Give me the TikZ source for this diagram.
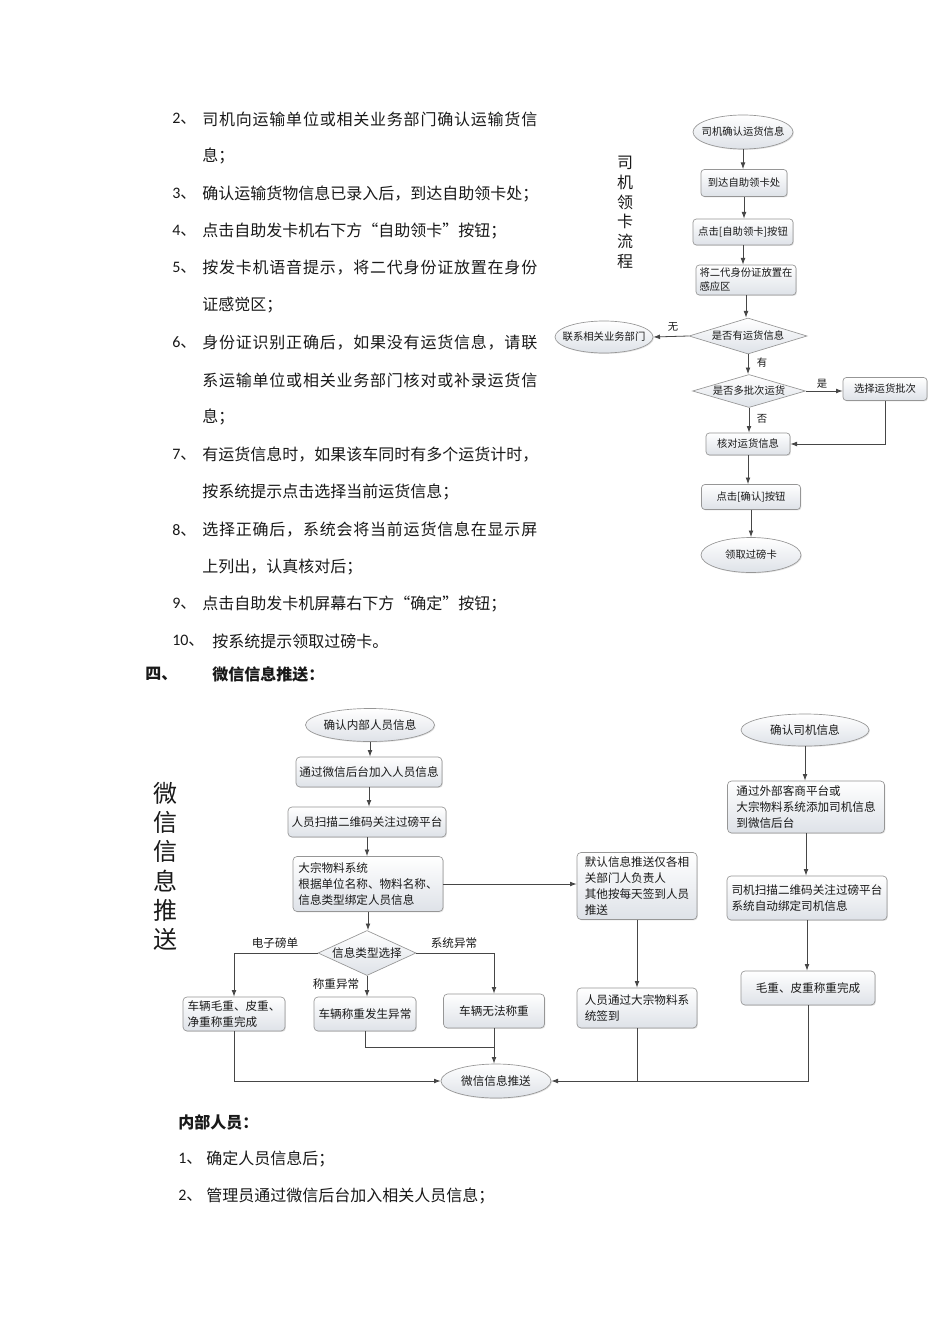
\documentclass[tikz,border=0pt]{standalone}
\usepackage{fontspec}
\setmainfont{Noto Sans CJK SC}
\newfontfamily\lat{Carlito}
\usetikzlibrary{shapes.geometric,arrows.meta,shadows}
\definecolor{linec}{RGB}{70,70,70}
\definecolor{bordc}{RGB}{150,150,150}
\definecolor{botc}{RGB}{222,226,232}
\definecolor{textc}{RGB}{25,25,25}
\def\px{*0.75pt}
\makeatletter
\newcommand\spreadbox[2]{\makebox[#1][s]{\spr@a#2\relax}}
\def\spr@a#1{#1\futurelet\spr@next\spr@b}
\def\spr@b{\ifx\spr@next\relax\expandafter\@gobble\else\hfil\expandafter\spr@a\fi}
\makeatother
\newcommand\zw[1]{\makebox[0pt]{#1}}
\tikzset{
  lc/.style={draw=linec, line width=0.6pt},
  arr/.style={lc, -{Latex[length=5pt,width=3.6pt]}},
  fl/.style={draw=bordc, line width=0.5pt, top color=white, bottom color=botc, text=textc, inner sep=1pt,
    drop shadow={shadow xshift=0.7pt, shadow yshift=-0.7pt, opacity=0.22}},
  fA/.style={font=\fontsize{7.75}{10.5}\selectfont},
  fB/.style={font=\fontsize{8.7}{12}\selectfont},
  boxA/.style={fl, fA, rectangle, rounded corners=2.5pt, align=left},
  boxB/.style={fl, fB, rectangle, rounded corners=3pt, align=left},
  ellA/.style={fl, fA, ellipse, inner sep=0pt},
  ellB/.style={fl, fB, ellipse, inner sep=0pt},
  diaA/.style={draw=bordc, line width=0.5pt, top color=white, bottom color=botc, text=textc, fA, diamond, inner sep=0pt},
  diaB/.style={draw=bordc, line width=0.5pt, top color=white, bottom color=botc, text=textc, fB, diamond, inner sep=0pt},
  lblA/.style={text=textc, fA, inner sep=0pt},
  lblB/.style={text=textc, fB, inner sep=0pt},
  txt/.style={font=\fontsize{12}{14}\selectfont, text=textc, inner sep=0pt, anchor=west},
}
\begin{document}
\begin{tikzpicture}[x=0.75pt,y=-0.75pt]
\useasboundingbox (0,0) rectangle (950,1344);
\fill[white] (0,0) rectangle (950,1344);

% ---------- body text ----------
\node[txt] (n2) at (172,119) {{\lat 2}、};
\node[txt] (t2a) at (202,119) {\spreadbox{251.25pt}{司机向运输单位或相关业务部门确认运输货信}};
\node[txt] (t2b) at (202,156) {息；};
\node[txt] (n3) at (172,194) {{\lat 3}、};
\node[txt] (t3) at (202,194) {\spreadbox{251.25pt}{确认运输货物信息已录入后，到达自助领卡处；}};
\node[txt] (n4) at (172,231) {{\lat 4}、};
\node[txt] (t4) at (202,231) {点击自助发卡机右下方“自助领卡”按钮；};
\node[txt] (n5) at (172,268) {{\lat 5}、};
\node[txt] (t5a) at (202,268) {\spreadbox{251.25pt}{按发卡机语音提示，将二代身份证放置在身份}};
\node[txt] (t5b) at (202,305) {证感觉区；};
\node[txt] (n6) at (172,343) {{\lat 6}、};
\node[txt] (t6a) at (202,343) {\spreadbox{251.25pt}{身份证识别正确后，如果没有运货信息，请联}};
\node[txt] (t6b) at (202,380) {\spreadbox{251.25pt}{系运输单位或相关业务部门核对或补录运货信}};
\node[txt] (t6c) at (202,417) {息；};
\node[txt] (n7) at (172,455) {{\lat 7}、};
\node[txt] (t7a) at (202,455) {\spreadbox{251.25pt}{有运货信息时，如果该车同时有多个运货计时，}};
\node[txt] (t7b) at (202,492) {按系统提示点击选择当前运货信息；};
\node[txt] (n8) at (172,530) {{\lat 8}、};
\node[txt] (t8a) at (202,530) {\spreadbox{251.25pt}{选择正确后，系统会将当前运货信息在显示屏}};
\node[txt] (t8b) at (202,567) {上列出，认真核对后；};
\node[txt] (n9) at (172,604) {{\lat 9}、};
\node[txt] (t9) at (202,604) {点击自助发卡机屏幕右下方“确定”按钮；};
\node[txt] (n10) at (172,641) {{\lat 10}、};
\node[txt] (t10) at (212,641) {按系统提示领取过磅卡。};
\node[txt, font=\fontsize{12}{14}\selectfont\bfseries] (h4) at (145,674) {四、};
\node[txt, font=\fontsize{12}{14}\selectfont\bfseries] (h4t) at (212,674) {微信信息推送：};
\node[txt, font=\fontsize{12}{14}\selectfont\bfseries] (hn) at (178,1122) {内部人员：};
\node[txt] (m1) at (178,1159) {{\lat 1}、};
\node[txt] (m1t) at (206,1159) {确定人员信息后；};
\node[txt] (m2) at (178,1196) {{\lat 2}、};
\node[txt] (m2t) at (206,1196) {管理员通过微信后台加入相关人员信息；};

% ---------- top flowchart ----------
\node[text=textc, font=\fontsize{12}{14.85}\selectfont, align=center, inner sep=0pt] (tt1) at (625,212.5) {司\\机\\领\\卡\\流\\程};

\node[ellA, minimum width=100\px, minimum height=34\px] (e1) at (743,132) {\zw{司机确认运货信息}};
\node[boxA, minimum width=86\px, minimum height=27\px] (r1) at (744,183) {到达自助领卡处};
\node[boxA, minimum width=100\px, minimum height=26\px] (r2) at (743,232) {点击[自助领卡]按钮};
\node[boxA, minimum width=100\px, minimum height=30\px] (r3) at (746,280) {将二代身份证放置在\\感应区};
\node[diaA, aspect=3.28, minimum width=118\px, minimum height=36\px] (d1) at (748,336) {是否有运货信息};
\node[ellA, minimum width=98\px, minimum height=32\px] (e2) at (604,337) {\zw{联系相关业务部门}};
\node[diaA, aspect=3.42, minimum width=113\px, minimum height=33\px] (d2) at (749,391) {是否多批次运货};
\node[boxA, minimum width=84\px, minimum height=23\px] (r4) at (885,389) {选择运货批次};
\node[boxA, minimum width=84\px, minimum height=22\px] (r5) at (748,444) {核对运货信息};
\node[boxA, minimum width=99\px, minimum height=25\px] (r6) at (751,497) {点击[确认]按钮};
\node[ellA, minimum width=100\px, minimum height=35\px] (e3) at (751,555) {\zw{领取过磅卡}};

\node[lblA] (lw) at (673,327) {无};
\node[lblA] (ly) at (762,363) {有};
\node[lblA] (ls) at (822,384) {是};
\node[lblA] (lf) at (762,419) {否};

\draw[arr] (e1.south) -- (e1.south |- r1.north);
\draw[arr] (r1.south) -- (r1.south |- r2.north);
\draw[arr] (r2.south) -- (r2.south |- r3.north);
\draw[arr] (r3.south) -- (r3.south |- d1.north);
\draw[arr] (d1.west) -- (e2.east);
\draw[arr] (d1.south) -- (d1.south |- d2.north);
\draw[arr] (d2.east) -- (d2.east -| r4.west);
\draw[arr] (d2.south) -- (d2.south |- r5.north);
\draw[arr] (r4.south) |- (r5.east);
\draw[arr] (r5.south) -- (r5.south |- r6.north);
\draw[arr] (r6.south) -- (r6.south |- e3.north);

% ---------- bottom flowchart ----------
\node[text=textc, font=\fontsize{18}{22}\selectfont, align=center, inner sep=0pt] (tt2) at (165,866.5) {微\\信\\信\\息\\推\\送};

\node[ellB, minimum width=129\px, minimum height=33\px] (be1) at (370,725) {\zw{确认内部人员信息}};
\node[boxB, minimum width=146\px, minimum height=30\px] (br1) at (369,772) {通过微信后台加入人员信息};
\node[boxB, minimum width=158\px, minimum height=30\px] (br2) at (367,822) {人员扫描二维码关注过磅平台};
\node[boxB, minimum width=150\px, minimum height=55\px] (br3) at (368,884) {大宗物料系统\\根据单位名称、物料名称、\\信息类型绑定人员信息};
\node[boxB, minimum width=120\px, minimum height=67\px] (br4) at (637,886) {默认信息推送仅各相\\关部门人负责人\\其他按每天签到人员\\推送};
\node[diaB, aspect=2.18, minimum width=98\px, minimum height=45\px] (bd) at (367,953) {信息类型选择};
\node[boxB, minimum width=102\px, minimum height=34\px] (bl) at (234,1014) {车辆毛重、皮重、\\净重称重完成};
\node[boxB, minimum width=102\px, minimum height=34\px] (bm) at (365,1014) {车辆称重发生异常};
\node[boxB, minimum width=101\px, minimum height=34\px] (brr) at (494,1011) {车辆无法称重};
\node[ellB, minimum width=110\px, minimum height=34\px] (bend) at (496,1081) {\zw{微信信息推送}};
\node[boxB, minimum width=120\px, minimum height=40\px] (br5) at (637,1008) {人员通过大宗物料系\\统签到};
\node[ellB, minimum width=128\px, minimum height=32\px] (ce) at (805,730) {\zw{确认司机信息}};
\node[boxB, minimum width=157\px, minimum height=52\px] (bc1) at (806,807) {通过外部客商平台或\\大宗物料系统添加司机信息\\到微信后台};
\node[boxB, minimum width=160\px, minimum height=44\px] (bc2) at (807,898) {司机扫描二维码关注过磅平台\\系统自动绑定司机信息};
\node[boxB, minimum width=134\px, minimum height=34\px] (bc3) at (808,988) {毛重、皮重称重完成};

\node[lblB] (la) at (275,943) {电子磅单};
\node[lblB] (lb) at (454,943) {系统异常};
\node[lblB] (lc) at (336,984) {称重异常};

\coordinate (j1) at (494,1047);

\draw[arr] (be1.south) -- (be1.south |- br1.north);
\draw[arr] (br1.south) -- (br1.south |- br2.north);
\draw[arr] (br2.south) -- (br2.south |- br3.north);
\draw[arr] (br3.south) -- (br3.south |- bd.north);
\draw[arr] (br3.east) -- (br3.east -| br4.west);
\draw[arr] (bd.west) -| (bl.north);
\draw[arr] (bd.east) -| (brr.north);
\draw[arr] (bd.south) -- (bd.south |- bm.north);
\draw[lc] (bm.south) |- (j1);
\draw[arr] (brr.south) -- (brr.south |- bend.north);
\draw[arr] (bl.south) |- (bend.west);
\draw[arr] (br4.south) -- (br4.south |- br5.north);
\draw[lc] (br5.south) -- (br5.south |- bend.east);
\draw[arr] (bc3.south) |- (bend.east);
\draw[arr] (ce.south) -- (ce.south |- bc1.north);
\draw[arr] (bc1.south) -- (bc1.south |- bc2.north);
\draw[arr] (bc2.south) -- (bc2.south |- bc3.north);
\end{tikzpicture}
\end{document}
